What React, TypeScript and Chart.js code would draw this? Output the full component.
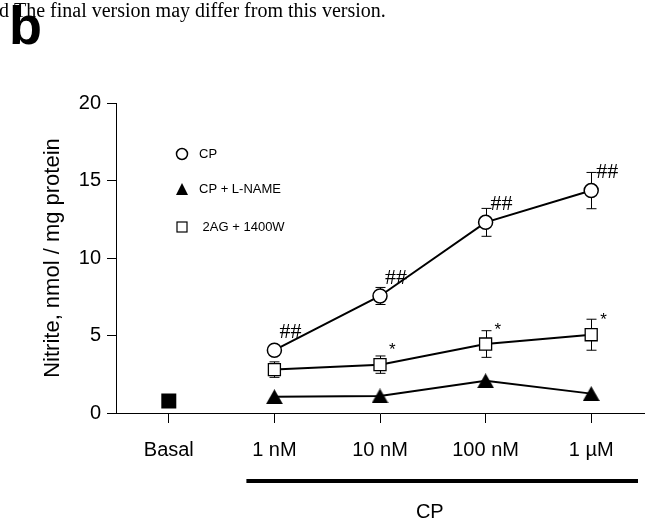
import React, { useEffect, useRef } from 'react';
import { Chart, registerables } from 'chart.js';

Chart.register(...registerables);

// ---- data ----
const categories = ['Basal', '1 nM', '10 nM', '100 nM', '1 \u00B5M'];
const basalValues = [0.78, null, null, null, null];
const cpValues = [null, 4.05, 7.55, 12.3, 14.35];
const cpErrors = [null, 0, 0.55, 0.9, 1.17];
const cpLnameValues = [null, 1.05, 1.1, 2.08, 1.25];
const agValues = [null, 2.8, 3.12, 4.45, 5.05];
const agErrors = [null, 0.5, 0.56, 0.86, 1.0];
const cpSignif = ['', '##', '##', '##', '##'];
const agSignif = ['', '', '*', '*', '*'];
const yTickValues = [0, 5, 10, 15, 20];
const yTitle = 'Nitrite, nmol / mg protein';
const xGroupLabel = 'CP';
const legendLabels = ['CP', 'CP + L-NAME', ' 2AG + 1400W'];
const panelLetter = 'b';
const headerText = 'd The final version may differ from this version.';

const SANS = "Arial, 'Liberation Sans', Helvetica, sans-serif";
const SERIF = "'Times New Roman', 'Liberation Serif', Times, serif";

function makeTriangle(w: number, h: number): HTMLCanvasElement {
  const c = document.createElement('canvas');
  c.width = w;
  c.height = h;
  const g = c.getContext('2d')!;
  g.fillStyle = '#000';
  g.beginPath();
  g.moveTo(0, h);
  g.lineTo(w / 2, 0);
  g.lineTo(w, h);
  g.closePath();
  g.fill();
  return c;
}

export default function App() {
  const ref = useRef<HTMLCanvasElement | null>(null);

  useEffect(() => {
    if (!ref.current) return;
    const tri = makeTriangle(17, 15);

    const overlay = {
      id: 'overlay',
      beforeDatasetsDraw(chart: any) {
        const ctx = chart.ctx;
        const ys = chart.scales.y;
        const pairs: [number, (number | null)[], (number | null)[]][] = [
          [1, cpValues, cpErrors],
          [3, agValues, agErrors],
        ];
        ctx.save();
        ctx.strokeStyle = '#000';
        ctx.lineWidth = 1;
        for (const [di, vals, errs] of pairs) {
          const meta = chart.getDatasetMeta(di);
          meta.data.forEach((pt: any, j: number) => {
            const v = vals[j];
            const e = errs[j];
            if (v == null || !e) return;
            const x = Math.round(pt.x) + 0.5;
            const yt = ys.getPixelForValue(v + e);
            const yb = ys.getPixelForValue(v - e);
            ctx.beginPath();
            ctx.moveTo(x, yt);
            ctx.lineTo(x, yb);
            ctx.moveTo(x - 5, yt);
            ctx.lineTo(x + 5, yt);
            ctx.moveTo(x - 5, yb);
            ctx.lineTo(x + 5, yb);
            ctx.stroke();
          });
        }
        ctx.restore();
      },
      afterDatasetsDraw(chart: any) {
        const ctx = chart.ctx;
        const xs = chart.scales.x;
        const ys = chart.scales.y;
        const area = chart.chartArea;
        ctx.save();
        ctx.fillStyle = '#000';
        ctx.strokeStyle = '#000';

        // significance marks
        ctx.textAlign = 'left';
        ctx.textBaseline = 'middle';
        ctx.font = `22px ${SERIF}`;
        cpSignif.forEach((s, j) => {
          if (!s || cpValues[j] == null) return;
          const x = xs.getPixelForValue(j);
          const y = ys.getPixelForValue(cpValues[j] as number);
          ctx.fillText(s, x + 5, y - 18);
        });
        ctx.font = `17px ${SANS}`;
        agSignif.forEach((s, j) => {
          if (!s || agValues[j] == null) return;
          const x = xs.getPixelForValue(j);
          const y = ys.getPixelForValue(agValues[j] as number);
          ctx.fillText(s, x + 9, y - 14);
        });

        // legend
        const lx = area.left + 66;
        const ly = [area.top + 51, area.top + 86, area.top + 124];
        ctx.lineWidth = 1.5;
        ctx.beginPath();
        ctx.arc(lx, ly[0], 5.5, 0, Math.PI * 2);
        ctx.fillStyle = '#fff';
        ctx.fill();
        ctx.stroke();
        ctx.fillStyle = '#000';
        ctx.beginPath();
        ctx.moveTo(lx - 6, ly[1] + 6);
        ctx.lineTo(lx, ly[1] - 6);
        ctx.lineTo(lx + 6, ly[1] + 6);
        ctx.closePath();
        ctx.fill();
        ctx.lineWidth = 1.2;
        ctx.strokeRect(lx - 5, ly[2] - 5, 10, 10);
        ctx.font = `13px ${SANS}`;
        ctx.textBaseline = 'middle';
        legendLabels.forEach((t, i) => ctx.fillText(t, lx + 17, ly[i] + 0.5));

        // extend x axis slightly left of y axis
        ctx.lineWidth = 1;
        ctx.beginPath();
        ctx.moveTo(area.left - 4, Math.round(area.bottom) + 0.5);
        ctx.lineTo(area.left, Math.round(area.bottom) + 0.5);
        ctx.stroke();

        // group bar and label
        const barL = xs.getPixelForValue(1) - 28;
        const barR = area.right - 6;
        ctx.fillRect(barL, area.bottom + 66, barR - barL, 4);
        ctx.font = `20px ${SANS}`;
        ctx.textAlign = 'center';
        ctx.textBaseline = 'middle';
        ctx.fillText(xGroupLabel, (xs.getPixelForValue(2) + xs.getPixelForValue(3)) / 2 - 3, area.bottom + 99);

        // header text and panel letter
        ctx.textAlign = 'left';
        ctx.textBaseline = 'alphabetic';
        ctx.font = `20px ${SERIF}`;
        ctx.fillText(headerText, -1, 17);
        ctx.font = `bold 54px ${SANS}`;
        ctx.fillText(panelLetter, 9, 44);
        ctx.restore();
      },
    };

    const chart = new Chart(ref.current, {
      type: 'line',
      data: {
        labels: categories,
        datasets: [
          {
            label: 'Basal',
            data: basalValues,
            showLine: false,
            pointStyle: 'rect',
            pointRadius: 10.6,
            pointBackgroundColor: '#000',
            pointBorderColor: '#000',
            pointBorderWidth: 0,
          },
          {
            label: legendLabels[0],
            data: cpValues,
            borderColor: '#000',
            borderWidth: 2,
            pointStyle: 'circle',
            pointRadius: 7,
            pointBackgroundColor: '#fff',
            pointBorderColor: '#000',
            pointBorderWidth: 1.5,
          },
          {
            label: legendLabels[1],
            data: cpLnameValues,
            borderColor: '#000',
            borderWidth: 2,
            pointStyle: tri as any,
            pointRadius: 9,
            pointBackgroundColor: '#000',
          },
          {
            label: legendLabels[2],
            data: agValues,
            borderColor: '#000',
            borderWidth: 2,
            pointStyle: 'rect',
            pointRadius: 8.5,
            pointBackgroundColor: '#fff',
            pointBorderColor: '#000',
            pointBorderWidth: 1.3,
          },
        ],
      },
      options: {
        responsive: false,
        animation: false,
        devicePixelRatio: 1,
        layout: { padding: { left: 0, top: 103, right: 10, bottom: 64 } },
        plugins: {
          legend: { display: false },
          tooltip: { enabled: false },
        },
        elements: { line: { tension: 0 } },
        scales: {
          x: {
            type: 'category',
            offset: true,
            afterFit: (s: any) => {
              s.height = 50;
            },
            border: { display: true, color: '#000', width: 1 },
            grid: {
              offset: false,
              drawOnChartArea: false,
              drawTicks: true,
              tickLength: 10,
              color: '#000',
              lineWidth: 1,
            },
            ticks: {
              color: '#000',
              font: { family: SANS, size: 20 },
              padding: 15,
              maxRotation: 0,
              autoSkip: false,
            },
          },
          y: {
            type: 'linear',
            min: 0,
            max: 20,
            afterFit: (s: any) => {
              s.width = 116;
            },
            afterBuildTicks: (s: any) => {
              s.ticks = yTickValues.map((v) => ({ value: v }));
            },
            border: { display: true, color: '#000', width: 1 },
            grid: {
              drawOnChartArea: false,
              drawTicks: true,
              tickLength: 9,
              color: '#000',
              lineWidth: 1,
            },
            ticks: {
              color: '#000',
              font: { family: SANS, size: 20 },
              padding: 6,
            },
            title: {
              display: true,
              text: yTitle,
              color: '#000',
              font: { family: SANS, size: 22 },
              padding: { top: 40, bottom: 0 },
            },
          },
        },
      },
      plugins: [overlay],
    });

    return () => chart.destroy();
  }, []);

  return (
    <div style={{ position: 'absolute', left: 0, top: 0, width: 655, height: 527, background: '#fff' }}>
      <canvas ref={ref} width={655} height={527} style={{ display: 'block' }} />
    </div>
  );
}
